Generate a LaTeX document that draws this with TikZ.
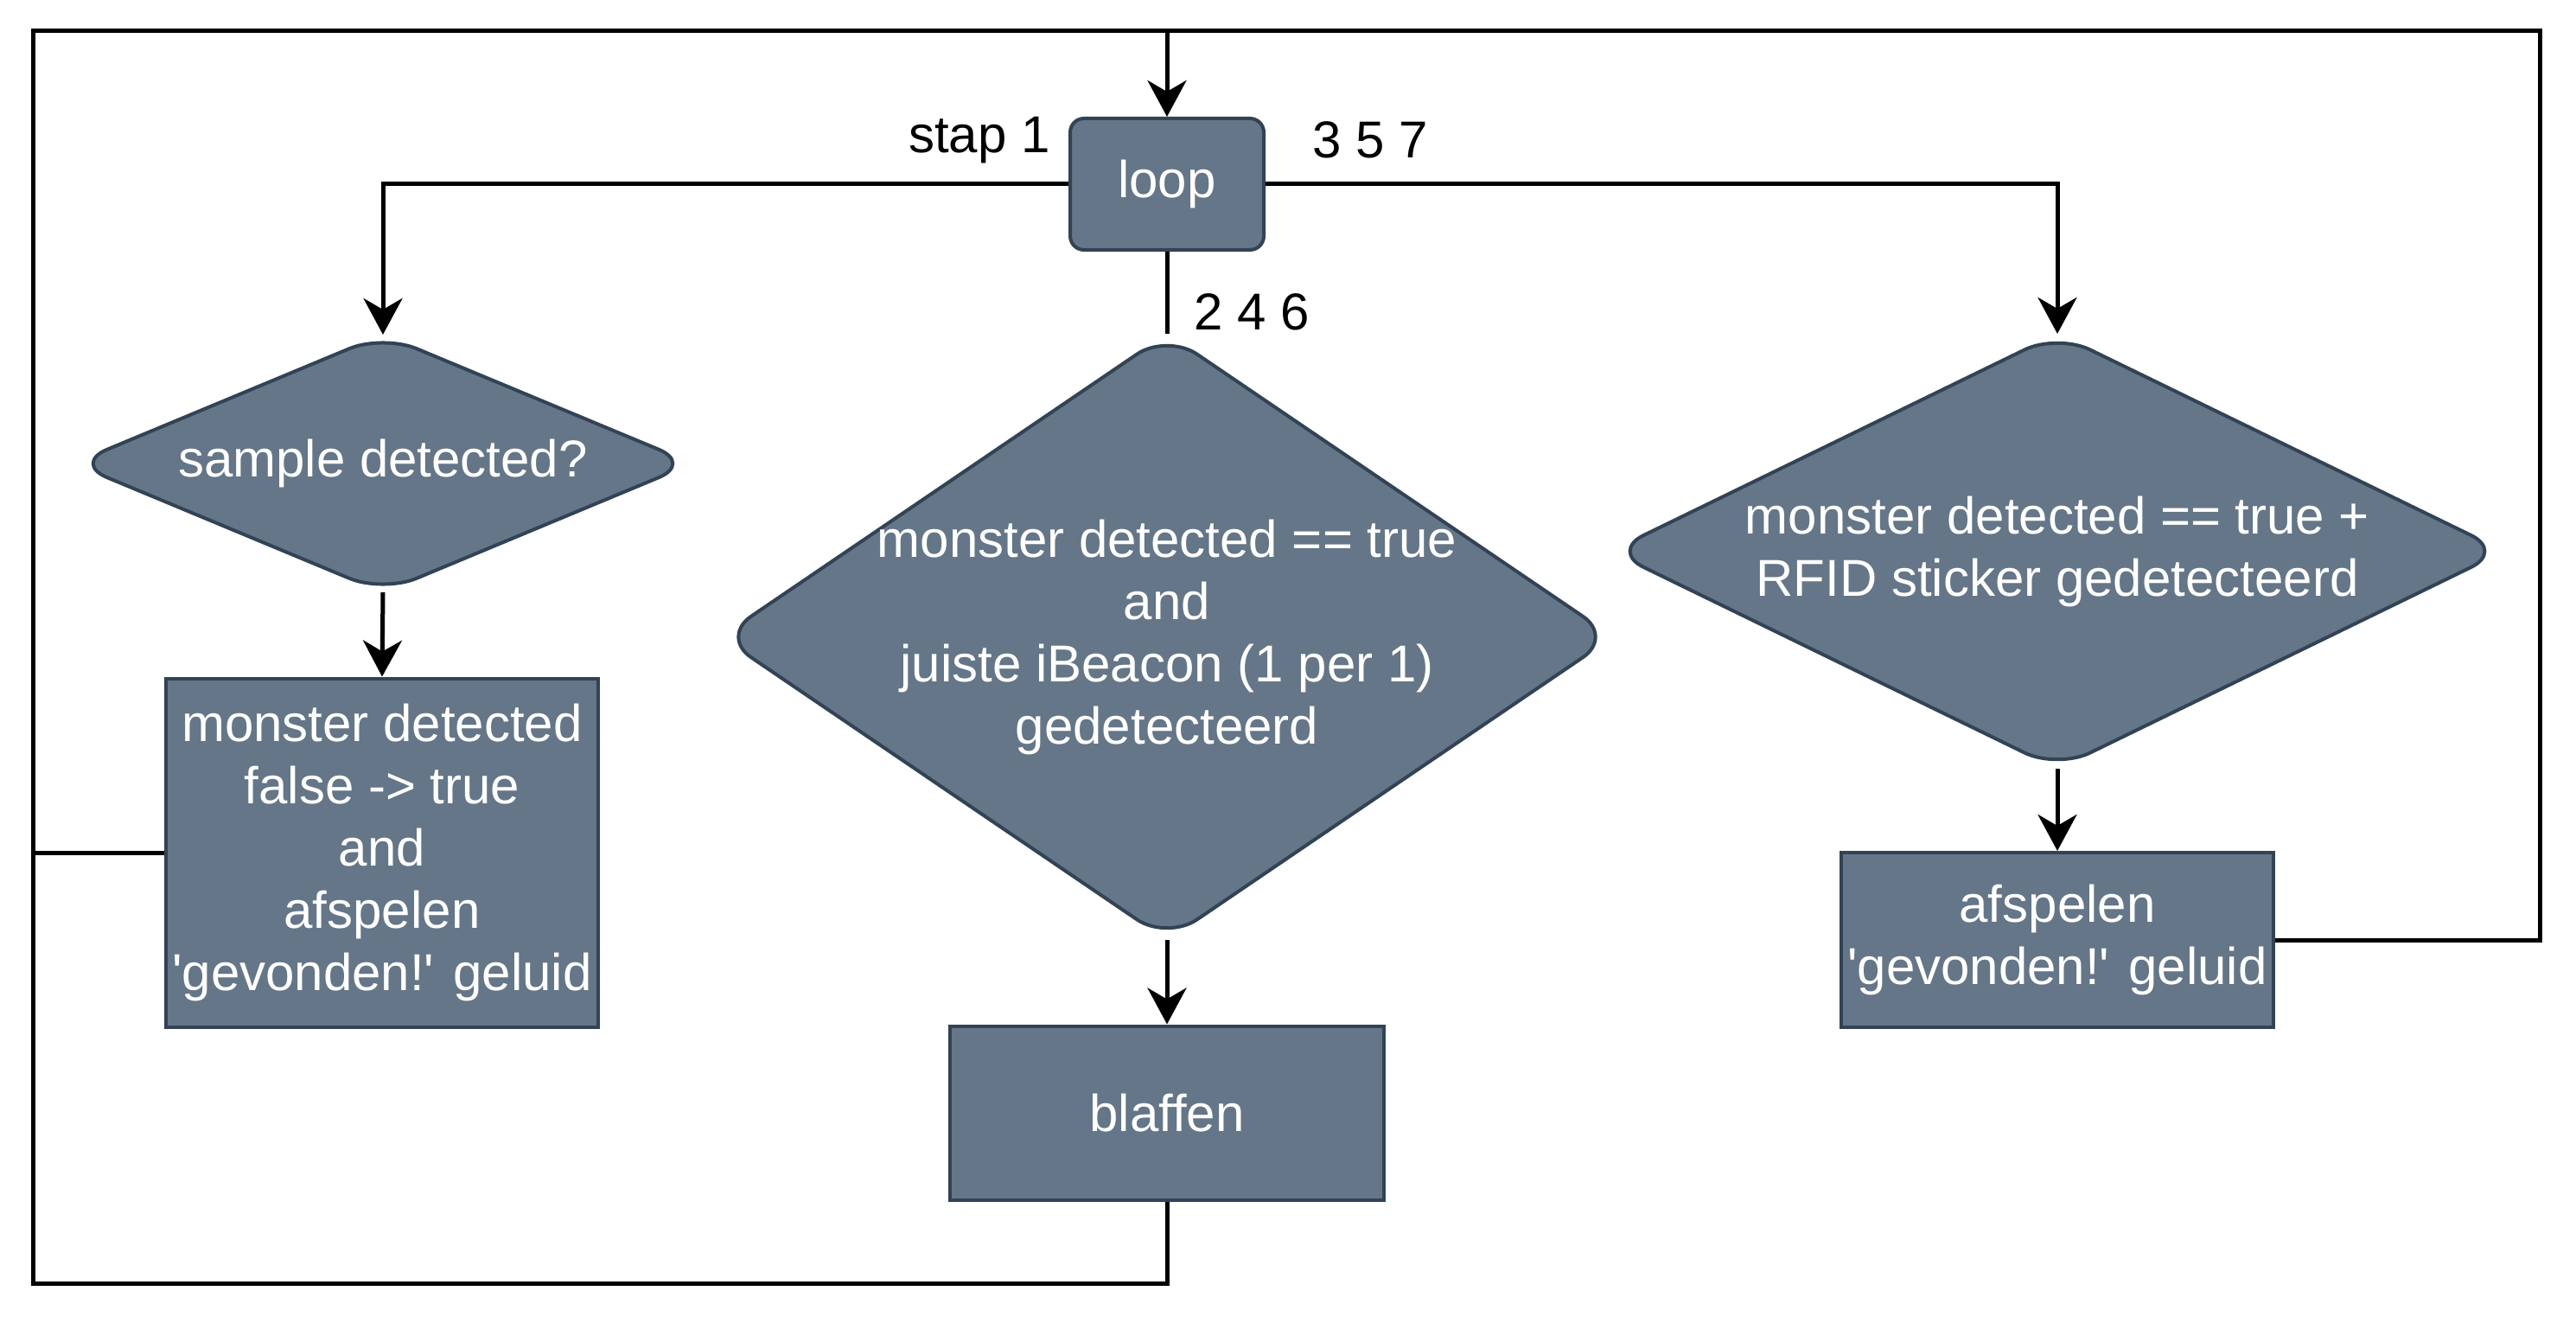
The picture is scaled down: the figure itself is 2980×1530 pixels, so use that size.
\documentclass[tikz,border=0pt]{standalone}
\usepackage{fontspec}
\setmainfont{Liberation Sans}
\usetikzlibrary{arrows.meta,shapes.geometric}
\definecolor{fillc}{HTML}{647687}
\definecolor{strokec}{HTML}{314354}
\newcommand{\q}{\textquotesingle}
\begin{document}
\begin{tikzpicture}[x=0.5pt,y=-0.5pt,
  shapebase/.style={draw=strokec, fill=fillc, line width=2pt, inner sep=0pt},
  boxnode/.style={shapebase, rectangle, minimum width=250pt, text=white, align=center,
    font=\fontsize{30}{36}\selectfont},
  loopnode/.style={shapebase, rectangle, rounded corners=8pt, minimum width=112pt, minimum height=76pt,
    text=white, font=\fontsize{30}{36}\selectfont},
  dia/.style={shapebase, diamond, rounded corners=21pt, outer sep=0pt},
  diatext/.style={text=white, align=center, font=\fontsize{30}{36}\selectfont, inner sep=0pt},
  lab/.style={text=black, font=\fontsize{30}{36}\selectfont, inner sep=0pt},
  conn/.style={draw=black, line width=2.5pt},
  arr/.style={conn, -{Stealth[length=21pt, width=22.5pt, inset=6.5pt]}}
]
\useasboundingbox (0,0) rectangle (2980,1530);

% shapes
\node[loopnode] (loop) at (1350,213) {loop};

\node[dia, minimum width=358pt, minimum height=149pt] (d1) at (443,536) {};
\node[diatext] (t1) at (d1.center) {sample detected?};

\node[dia, minimum width=516pt, minimum height=350.5pt] (d2) at (1350,736.5) {};
\node[diatext] (t2) at (d2.center) {monster detected == true\\and\\juiste iBeacon (1 per 1)\\gedetecteerd};

\node[dia, minimum width=516.5pt, minimum height=251.5pt] (d3) at (2380,637.5) {};
\node[diatext] (t3) at (d3.center) {monster detected == true +\\RFID sticker gedetecteerd};

\node[boxnode, minimum height=201.5pt] (r1) at (442,986)
  {monster detected\\false -> true\\and\\afspelen\\\q gevonden!\q{} geluid};
\node[boxnode, minimum width=251pt, minimum height=100.5pt] (bl) at (1350,1287) {blaffen};
\node[boxnode, minimum height=101pt] (r3) at (2380,1087)
  {afspelen\\\q gevonden!\q{} geluid};

% labels
\node[lab] (s1) at (1133,162) {stap 1};
\node[lab] (s357) at (1585,162) {3 5 7};
\node[lab] (s246) at (1448,361) {2 4 6};

% frame coordinates
\coordinate (tl) at (38,36);
\coordinate (tr) at (2938,36);
\coordinate (blc) at (38,1484);
\coordinate (top) at (1350,36);

% connectors
\draw[arr] (loop.west) -| (d1.north);
\draw[arr] (loop.east) -| (d3.north);
\draw[conn] (loop.south) -- (d2.north);
\draw[arr] (d1.south) -- (r1.north);
\draw[arr] (d2.south) -- (bl.north);
\draw[arr] (d3.south) -- (r3.north);

\draw[conn] (bl.south) |- (blc) -- (tl) -- (top);
\draw[conn] (r1.west) -- (r1.west -| tl);
\draw[conn] (r3.east) -| (tr) -- (top);
\draw[arr] (top) -- (loop.north);
\end{tikzpicture}
\end{document}
